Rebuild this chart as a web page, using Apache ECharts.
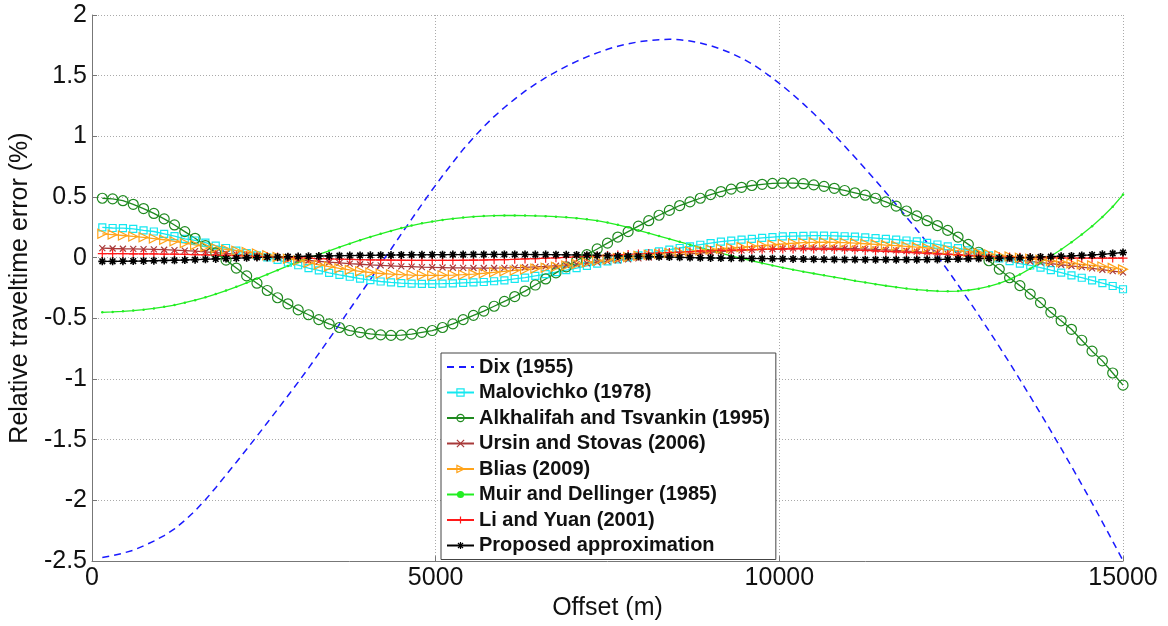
<!DOCTYPE html>
<html>
<head>
<meta charset="utf-8">
<script src="https://cdn.jsdelivr.net/npm/echarts@6/dist/echarts.min.js"></script>
<style>
html, body { margin: 0; padding: 0; background: #fff; }
#main { width: 1168px; height: 626px; }
</style>
</head>
<body>
<div id="main"></div>
<script>
var offsets = [
	150, 300, 450, 600, 750, 900, 1050, 1200, 1350, 1500,
	1650, 1800, 1950, 2100, 2250, 2400, 2550, 2700, 2850, 3000,
	3150, 3300, 3450, 3600, 3750, 3900, 4050, 4200, 4350, 4500,
	4650, 4800, 4950, 5100, 5250, 5400, 5550, 5700, 5850, 6000,
	6150, 6300, 6450, 6600, 6750, 6900, 7050, 7200, 7350, 7500,
	7650, 7800, 7950, 8100, 8250, 8400, 8550, 8700, 8850, 9000,
	9150, 9300, 9450, 9600, 9750, 9900, 10050, 10200, 10350, 10500,
	10650, 10800, 10950, 11100, 11250, 11400, 11550, 11700, 11850, 12000,
	12150, 12300, 12450, 12600, 12750, 12900, 13050, 13200, 13350, 13500,
	13650, 13800, 13950, 14100, 14250, 14400, 14550, 14700, 14850, 15000
];

var dix = [
	-2.47, -2.455, -2.435, -2.41, -2.375, -2.335, -2.29, -2.235, -2.165, -2.085,
	-1.995, -1.895, -1.79, -1.685, -1.578, -1.47, -1.36, -1.25, -1.138, -1.025,
	-0.91, -0.79, -0.67, -0.548, -0.425, -0.302, -0.18, -0.05, 0.07, 0.195,
	0.318, 0.44, 0.56, 0.675, 0.785, 0.893, 0.99, 1.08, 1.163, 1.238,
	1.307, 1.372, 1.43, 1.484, 1.532, 1.577, 1.618, 1.655, 1.688, 1.718,
	1.743, 1.763, 1.779, 1.79, 1.797, 1.80, 1.796, 1.786, 1.769, 1.747,
	1.719, 1.685, 1.645, 1.598, 1.542, 1.48, 1.414, 1.343, 1.268, 1.188,
	1.103, 1.013, 0.92, 0.828, 0.733, 0.637, 0.538, 0.438, 0.335, 0.231,
	0.124, 0.015, -0.103, -0.224, -0.347, -0.473, -0.602, -0.733, -0.867, -1.004,
	-1.143, -1.284, -1.427, -1.572, -1.719, -1.869, -2.022, -2.178, -2.336, -2.496
];

var malovichko = [
	0.25, 0.245, 0.243, 0.238, 0.225, 0.216, 0.197, 0.178, 0.156, 0.142,
	0.125, 0.10, 0.08, 0.058, 0.038, 0.02, 0.002, -0.018, -0.04, -0.062,
	-0.085, -0.105, -0.125, -0.142, -0.157, -0.172, -0.185, -0.196, -0.204, -0.21,
	-0.213, -0.215, -0.215, -0.214, -0.212, -0.208, -0.204, -0.2, -0.194, -0.186,
	-0.175, -0.164, -0.15, -0.136, -0.119, -0.103, -0.085, -0.067, -0.049, -0.031,
	-0.014, 0.002, 0.019, 0.036, 0.052, 0.067, 0.08, 0.094, 0.107, 0.12,
	0.132, 0.141, 0.149, 0.156, 0.163, 0.17, 0.175, 0.178, 0.18, 0.182,
	0.182, 0.18, 0.177, 0.173, 0.168, 0.162, 0.156, 0.149, 0.142, 0.134,
	0.123, 0.109, 0.094, 0.079, 0.06, 0.041, 0.019, -0.006, -0.028, -0.048,
	-0.064, -0.082, -0.103, -0.123, -0.145, -0.165, -0.186, -0.21, -0.233, -0.26
];

var alkhalifah = [
	0.49, 0.485, 0.47, 0.44, 0.405, 0.365, 0.32, 0.27, 0.215, 0.16,
	0.10, 0.04, -0.02, -0.085, -0.15, -0.21, -0.27, -0.33, -0.38, -0.43,
	-0.47, -0.51, -0.545, -0.575, -0.60, -0.615, -0.628, -0.636, -0.64, -0.638,
	-0.63, -0.615, -0.60, -0.575, -0.545, -0.51, -0.475, -0.44, -0.40, -0.36,
	-0.32, -0.275, -0.225, -0.175, -0.125, -0.075, -0.025, 0.025, 0.072, 0.12,
	0.17, 0.215, 0.26, 0.305, 0.35, 0.39, 0.43, 0.46, 0.49, 0.52,
	0.545, 0.565, 0.58, 0.595, 0.605, 0.612, 0.615, 0.614, 0.61, 0.60,
	0.588, 0.572, 0.554, 0.535, 0.515, 0.49, 0.46, 0.425, 0.385, 0.345,
	0.305, 0.265, 0.225, 0.17, 0.11, 0.045, -0.025, -0.095, -0.165, -0.23,
	-0.30, -0.37, -0.45, -0.52, -0.59, -0.68, -0.77, -0.85, -0.95, -1.05
];

var ursin = [
	0.079, 0.076, 0.074, 0.073, 0.071, 0.069, 0.066, 0.063, 0.059, 0.054,
	0.048, 0.042, 0.035, 0.028, 0.021, 0.014, 0.006, -0.001, -0.008, -0.016,
	-0.023, -0.03, -0.037, -0.043, -0.049, -0.054, -0.059, -0.063, -0.067, -0.071,
	-0.074, -0.077, -0.079, -0.081, -0.083, -0.084, -0.085, -0.085, -0.085, -0.084,
	-0.082, -0.079, -0.075, -0.071, -0.066, -0.06, -0.053, -0.046, -0.038, -0.03,
	-0.022, -0.014, -0.006, 0.002, 0.01, 0.018, 0.025, 0.032, 0.039, 0.045,
	0.051, 0.056, 0.061, 0.065, 0.069, 0.072, 0.075, 0.077, 0.078, 0.079,
	0.079, 0.078, 0.076, 0.074, 0.071, 0.068, 0.064, 0.06, 0.055, 0.05,
	0.044, 0.038, 0.031, 0.024, 0.017, 0.01, 0.002, -0.006, -0.014, -0.022,
	-0.031, -0.04, -0.049, -0.058, -0.068, -0.078, -0.088, -0.099, -0.11, -0.121
];

var blias = [
	0.197, 0.19, 0.183, 0.175, 0.168, 0.158, 0.148, 0.135, 0.121, 0.105,
	0.09, 0.078, 0.068, 0.058, 0.047, 0.034, 0.02, 0.006, -0.008, -0.023,
	-0.042, -0.058, -0.073, -0.087, -0.1, -0.112, -0.122, -0.13, -0.136, -0.14,
	-0.143, -0.145, -0.146, -0.145, -0.143, -0.14, -0.135, -0.128, -0.12, -0.112,
	-0.105, -0.098, -0.09, -0.082, -0.074, -0.064, -0.052, -0.039, -0.026, -0.014,
	-0.003, 0.006, 0.015, 0.024, 0.032, 0.039, 0.046, 0.053, 0.06, 0.067,
	0.074, 0.08, 0.087, 0.094, 0.1, 0.106, 0.113, 0.119, 0.124, 0.127,
	0.128, 0.127, 0.124, 0.12, 0.115, 0.11, 0.104, 0.099, 0.093, 0.087,
	0.08, 0.073, 0.065, 0.056, 0.047, 0.038, 0.028, 0.019, 0.01, 0.0,
	-0.008, -0.017, -0.027, -0.036, -0.045, -0.055, -0.063, -0.072, -0.084, -0.096
];

var muir = [
	-0.45, -0.447, -0.442, -0.436, -0.428, -0.418, -0.405, -0.39, -0.371, -0.35,
	-0.326, -0.30, -0.271, -0.24, -0.207, -0.173, -0.138, -0.103, -0.068, -0.035,
	-0.003, 0.027, 0.057, 0.087, 0.116, 0.144, 0.171, 0.197, 0.221, 0.244,
	0.265, 0.283, 0.298, 0.311, 0.322, 0.331, 0.338, 0.343, 0.346, 0.348,
	0.348, 0.347, 0.345, 0.342, 0.338, 0.333, 0.326, 0.316, 0.305, 0.29,
	0.271, 0.25, 0.226, 0.202, 0.178, 0.155, 0.131, 0.107, 0.083, 0.06,
	0.038, 0.016, -0.005, -0.025, -0.045, -0.064, -0.082, -0.099, -0.115, -0.13,
	-0.145, -0.16, -0.175, -0.19, -0.204, -0.218, -0.231, -0.243, -0.254, -0.263,
	-0.27, -0.275, -0.277, -0.275, -0.268, -0.255, -0.236, -0.211, -0.178, -0.138,
	-0.09, -0.04, 0.012, 0.068, 0.128, 0.192, 0.26, 0.335, 0.42, 0.52
];

var liYuan = [
	0.033, 0.033, 0.033, 0.032, 0.032, 0.031, 0.03, 0.029, 0.028, 0.026,
	0.024, 0.022, 0.02, 0.017, 0.014, 0.011, 0.008, 0.005, 0.002, -0.001,
	-0.004, -0.007, -0.01, -0.012, -0.014, -0.016, -0.018, -0.019, -0.02, -0.021,
	-0.022, -0.022, -0.022, -0.022, -0.022, -0.021, -0.02, -0.019, -0.017, -0.015,
	-0.013, -0.01, -0.007, -0.004, -0.001, 0.003, 0.007, 0.011, 0.015, 0.019,
	0.023, 0.027, 0.031, 0.035, 0.039, 0.043, 0.047, 0.05, 0.054, 0.057,
	0.06, 0.063, 0.065, 0.067, 0.069, 0.07, 0.071, 0.072, 0.072, 0.071,
	0.07, 0.068, 0.066, 0.063, 0.06, 0.057, 0.053, 0.049, 0.045, 0.041,
	0.036, 0.032, 0.027, 0.023, 0.019, 0.015, 0.011, 0.008, 0.005, 0.003,
	0.001, 0.0, -0.001, -0.002, -0.003, -0.003, -0.003, -0.003, -0.003, -0.003
];

var proposed = [
	-0.03, -0.03, -0.029, -0.028, -0.027, -0.025, -0.023, -0.021, -0.019, -0.016,
	-0.013, -0.01, -0.007, -0.004, -0.001, 0.002, 0.004, 0.006, 0.008, 0.01,
	0.012, 0.014, 0.015, 0.017, 0.018, 0.019, 0.02, 0.021, 0.022, 0.023,
	0.024, 0.024, 0.025, 0.025, 0.026, 0.026, 0.027, 0.027, 0.027, 0.027,
	0.027, 0.027, 0.026, 0.026, 0.025, 0.024, 0.023, 0.021, 0.019, 0.017,
	0.015, 0.013, 0.011, 0.009, 0.007, 0.005, 0.003, 0.001, -0.001, -0.002,
	-0.003, -0.004, -0.005, -0.006, -0.007, -0.008, -0.009, -0.01, -0.011, -0.012,
	-0.013, -0.014, -0.015, -0.015, -0.016, -0.016, -0.016, -0.016, -0.016, -0.016,
	-0.015, -0.014, -0.013, -0.011, -0.009, -0.007, -0.005, -0.003, -0.001, 0.001,
	0.003, 0.006, 0.009, 0.012, 0.015, 0.019, 0.023, 0.028, 0.035, 0.043
];

var names = [
	'Dix (1955)',
	'Malovichko (1978)',
	'Alkhalifah and Tsvankin (1995)',
	'Ursin and Stovas (2006)',
	'Blias (2009)',
	'Muir and Dellinger (1985)',
	'Li and Yuan (2001)',
	'Proposed approximation'
];
var colors = ['#1a1aff', '#14e8f0', '#1f8a1f', '#a83a3a', '#ffa31a', '#22ee22', '#ff1a1a', '#000000'];

var FONT = '"Liberation Sans", Arial, sans-serif';
var CLEAR = 'rgba(0,0,0,0)';

function pairs(vals) {
	return offsets.map(function(x, i) { return [x, vals[i]]; });
}

// stroke-only marker: hollow inside, the line stays visible through it
function markerSeries(k, vals, symbol, size, lw) {
	return {
		name: names[k],
		type: 'line',
		data: pairs(vals),
		symbol: symbol,
		symbolSize: size,
		lineStyle: { color: colors[k], width: 1.3 },
		itemStyle: { color: CLEAR, borderColor: colors[k], borderWidth: lw || 1.2 },
		emphasis: { disabled: true }
	};
}

// legend entries: same colours, markers hollow like the plot
var legendItems = names.map(function(n, k) {
	var it = { name: n, itemStyle: { color: CLEAR, borderColor: colors[k], borderWidth: 1.2 } };
	if (k == 0) it.itemStyle = { color: CLEAR, borderColor: CLEAR, borderWidth: 0 };
	if (k == 5) it.itemStyle = { color: colors[k], borderWidth: 0 };
	return it;
});

var myChart = echarts.init(document.getElementById('main'));

var option = {
	animation: false,
	backgroundColor: '#fff',
	textStyle: { fontFamily: FONT },
	grid: { left: 92, right: 45, top: 15, bottom: 63 },
	legend: {
		orient: 'vertical',
		left: 441,
		top: 353,
		data: legendItems,
		backgroundColor: '#fff',
		borderColor: '#444',
		borderWidth: 1,
		borderRadius: 0,
		padding: [4, 6, 4, 5],
		itemGap: 5.5,
		itemWidth: 27,
		itemHeight: 9,
		textStyle: { fontFamily: FONT, fontSize: 20, fontWeight: 'bold', color: '#111', lineHeight: 20 }
	},
	xAxis: {
		type: 'value',
		min: 0,
		max: 15000,
		interval: 5000,
		name: 'Offset (m)',
		nameLocation: 'middle',
		nameGap: 28,
		nameTextStyle: { fontFamily: FONT, fontSize: 25, color: '#111' },
		axisLine: { show: true, onZero: false, lineStyle: { color: '#777', width: 1 } },
		axisTick: { show: true, inside: true, length: 5, lineStyle: { color: '#777' } },
		axisLabel: {
			fontFamily: FONT, fontSize: 25, color: '#111', margin: 5,
			showMinLabel: true, showMaxLabel: true,
			formatter: function(v) { return String(v); }
		},
		splitLine: { show: true, lineStyle: { color: '#aaa', width: 1, type: [1, 2] } }
	},
	yAxis: {
		type: 'value',
		min: -2.5,
		max: 2,
		interval: 0.5,
		name: 'Relative traveltime error (%)',
		nameLocation: 'middle',
		nameGap: 58,
		nameTextStyle: { fontFamily: FONT, fontSize: 25, color: '#111' },
		axisLine: { show: true, onZero: false, lineStyle: { color: '#777', width: 1 } },
		axisTick: { show: true, inside: true, length: 5, lineStyle: { color: '#777' } },
		axisLabel: {
			fontFamily: FONT, fontSize: 25, color: '#111', margin: 5,
			showMinLabel: true, showMaxLabel: true,
			formatter: function(v) { return String(v); }
		},
		splitLine: { show: true, lineStyle: { color: '#aaa', width: 1, type: [1, 2] } }
	},
	series: [
		{
			name: names[0],
			type: 'line',
			data: pairs(dix),
			symbol: 'none',
			lineStyle: { color: colors[0], width: 1.5, type: [7, 5] },
			itemStyle: { color: colors[0] },
			emphasis: { disabled: true }
		},
		markerSeries(1, malovichko, 'rect', 7),
		markerSeries(2, alkhalifah, 'circle', 10),
		markerSeries(3, ursin, 'path://M0,0L10,10M10,0L0,10', 6),
		markerSeries(4, blias, 'path://M0,0L10,5L0,10Z', 9),
		{
			name: names[5],
			type: 'line',
			data: pairs(muir),
			symbol: 'circle',
			symbolSize: 2.5,
			lineStyle: { color: colors[5], width: 1.3 },
			itemStyle: { color: colors[5] },
			emphasis: { disabled: true }
		},
		markerSeries(6, liYuan, 'path://M5,0L5,10M0,5L10,5', 9),
		markerSeries(7, proposed, 'path://M5,0L5,10M0,5L10,5M1.5,1.5L8.5,8.5M8.5,1.5L1.5,8.5', 8, 1.6)
	]
};

myChart.setOption(option);
</script>
</body>
</html>
